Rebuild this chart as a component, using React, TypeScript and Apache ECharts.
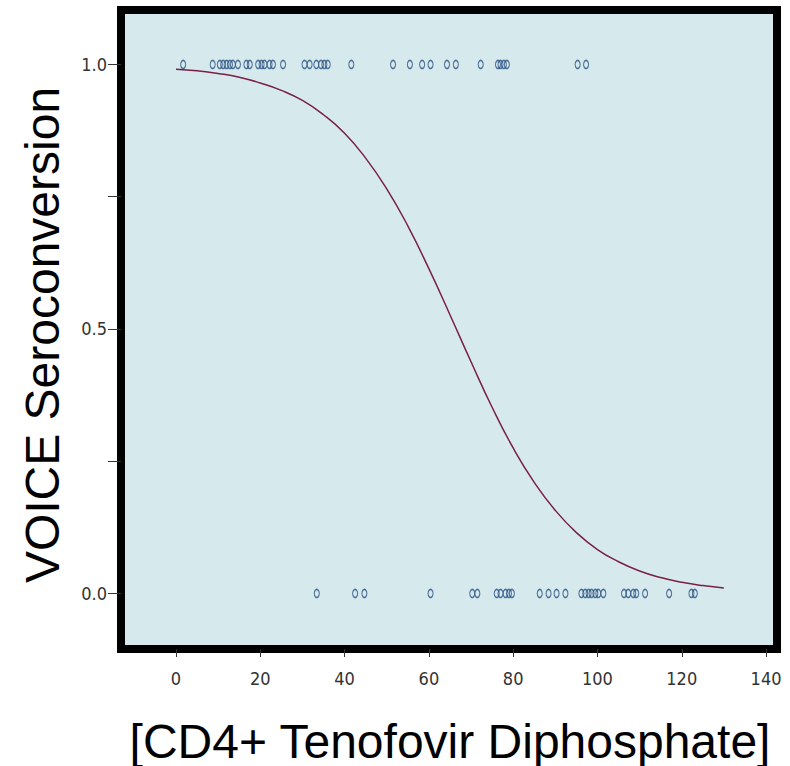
import React, { useEffect, useRef } from "react";
import * as echarts from "echarts";

// Observed outcome = 1 (seroconverted)
const seroPositiveX = [
  1.7, 8.7, 10.4, 11.2, 12.0, 12.8, 13.5, 14.7, 16.7, 17.5, 19.5, 20.3, 21.0, 22.2, 23.0,
  25.4, 30.5, 31.7, 33.3, 34.4, 35.2, 36.0, 41.6, 51.5, 55.5, 58.4, 60.4, 64.3, 66.4,
  72.3, 76.4, 77.0, 77.8, 78.5, 95.3, 97.3,
];
// Observed outcome = 0
const seroNegativeX = [
  33.4, 42.5, 44.7, 60.4, 70.3, 71.5, 76.1, 77.0, 78.2, 79.0, 79.7, 86.3, 88.4, 90.3,
  92.4, 96.2, 97.1, 97.9, 98.6, 99.5, 100.2, 101.4, 106.3, 107.3, 108.5, 109.2, 111.3,
  117.0, 122.3, 123.1,
];

// Fitted curve
const curveX = [0, 5, 10, 15, 20, 25, 30, 35, 40, 45, 50, 55, 60, 65, 70, 75, 80, 85, 90, 95, 100, 105, 110, 115, 120, 125, 130];
const curveY = [
  0.991, 0.988, 0.983, 0.976, 0.965, 0.951, 0.932, 0.905, 0.87, 0.823, 0.765, 0.695, 0.614,
  0.527, 0.438, 0.352, 0.275, 0.21, 0.157, 0.115, 0.083, 0.06, 0.0425, 0.03, 0.0212, 0.0149,
  0.0105,
];

const xTicks = [0, 20, 40, 60, 80, 100, 120, 140];
const yTicks = [0, 0.25, 0.5, 0.75, 1.0];
const yLabels = [0, 0.5, 1.0];

const xTitle = "[CD4+ Tenofovir Diphosphate]";
const yTitle = "VOICE Seroconversion";

export default function App() {
  const ref = useRef<HTMLDivElement>(null);

  useEffect(() => {
    if (!ref.current) return;
    const chart = echarts.init(ref.current, null, { renderer: "svg" });
    const labelFont = "'Liberation Sans Narrow', 'DejaVu Sans Condensed', 'Liberation Sans', sans-serif";
    const symbolStyle = {
      color: "rgba(0,0,0,0)",
      borderColor: "#2c5282",
      borderWidth: 1.3,
    };
    chart.setOption({
      animation: false,
      backgroundColor: "#ffffff",
      grid: {
        left: 121,
        top: 10,
        width: 656,
        height: 639,
        show: true,
        backgroundColor: "#d6eaee",
        borderColor: "#000000",
        borderWidth: 8,
        containLabel: false,
        outerBoundsMode: "none",
      },
      xAxis: {
        type: "value",
        min: -13.05,
        max: 142.6,
        splitLine: { show: false },
        axisLine: { show: false, onZero: false },
        axisTick: {
          show: true,
          length: 8,
          customValues: xTicks,
          lineStyle: { color: "#333", width: 1 },
        },
        axisLabel: {
          show: true,
          customValues: xTicks,
          margin: 20,
          fontSize: 18,
          fontFamily: labelFont,
          color: "#333",
        },
      },
      yAxis: {
        type: "value",
        min: -0.105,
        max: 1.103,
        splitLine: { show: false },
        axisLine: { show: false, onZero: false },
        axisTick: {
          show: true,
          length: 13,
          customValues: yTicks,
          lineStyle: { color: "#333", width: 1 },
        },
        axisLabel: {
          show: true,
          customValues: yLabels,
          margin: 14,
          fontSize: 18,
          fontFamily: labelFont,
          color: "#333",
          formatter: (v: number) => v.toFixed(1),
        },
      },
      graphic: [
        {
          type: "text",
          x: 42,
          y: 335,
          rotation: Math.PI / 2,
          style: {
            text: yTitle,
            fontSize: 48,
            fontFamily: "'Liberation Sans', Arial, sans-serif",
            fill: "#000",
            textAlign: "center",
            textVerticalAlign: "middle",
          },
        },
        {
          type: "text",
          x: 450,
          y: 741,
          style: {
            text: xTitle,
            fontSize: 48,
            fontFamily: "'Liberation Sans', Arial, sans-serif",
            fill: "#000",
            textAlign: "center",
            textVerticalAlign: "middle",
          },
        },
      ],
      series: [
        {
          type: "line",
          data: curveX.map((x, i) => [x, curveY[i]]),
          smooth: true,
          showSymbol: false,
          lineStyle: { color: "#7a1f48", width: 1.5 },
          z: 2,
        },
        {
          type: "scatter",
          data: seroPositiveX.map((x) => [x, 1]),
          symbol: "circle",
          symbolSize: [5, 8],
          itemStyle: symbolStyle,
          z: 3,
        },
        {
          type: "scatter",
          data: seroNegativeX.map((x) => [x, 0]),
          symbol: "circle",
          symbolSize: [5, 8],
          itemStyle: symbolStyle,
          z: 3,
        },
      ],
    });
    return () => chart.dispose();
  }, []);

  return (
    <div
      ref={ref}
      style={{ position: "fixed", left: 0, top: 0, width: 790, height: 766 }}
    />
  );
}
